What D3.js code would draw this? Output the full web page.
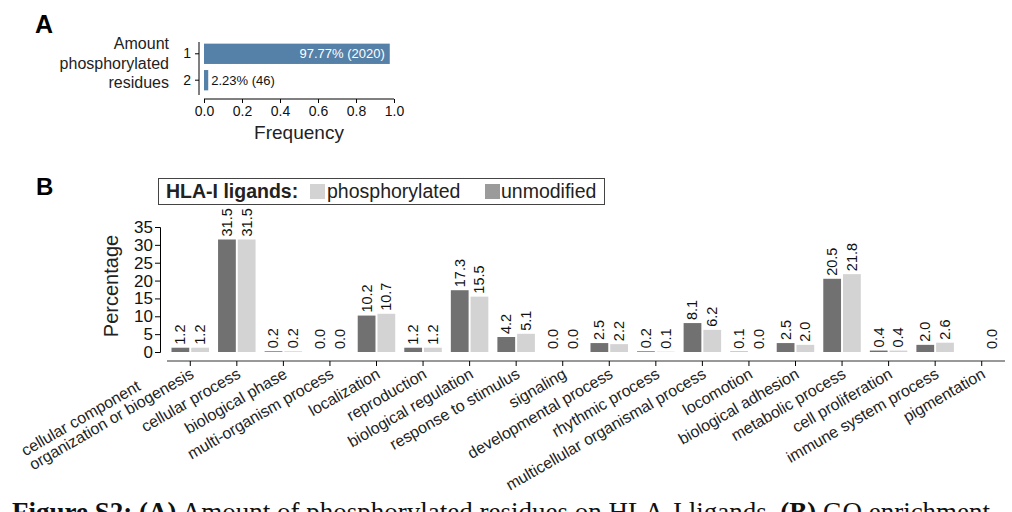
<!DOCTYPE html>
<html>
<head>
<meta charset="utf-8">
<script src="https://cdn.jsdelivr.net/npm/d3@7"></script>
<style>
  body { margin: 0; background: #fff; }
  svg { display: block; font-family: "Liberation Sans", Arial, sans-serif; }
</style>
</head>
<body>
<svg id="fig" width="1012" height="512"></svg>
<script>
// panel A data
const residues = ["1", "2"];
const residueFreq = [0.9777, 0.0223];
const residueCount = [2020, 46];
const freqTicks = [0, 0.2, 0.4, 0.6, 0.8, 1.0];

// panel B data
const goTerms = [
  "cellular component\norganization or biogenesis", "cellular process", "biological phase",
  "multi-organism process", "localization", "reproduction", "biological regulation",
  "response to stimulus", "signaling", "developmental process", "rhythmic process",
  "multicellular organismal process", "locomotion", "biological adhesion",
  "metabolic process", "cell proliferation", "immune system process", "pigmentation"
];
const unmodified = [1.2, 31.5, 0.2, 0.0, 10.2, 1.2, 17.3, 4.2, 0.0, 2.5, 0.2, 8.1, 0.1, 2.5, 20.5, 0.4, 2.0, null];
const phosphorylated = [1.2, 31.5, 0.2, 0.0, 10.7, 1.2, 15.5, 5.1, 0.0, 2.2, 0.1, 6.2, 0.0, 2.0, 21.8, 0.4, 2.6, 0.0];
const pctTicks = [0, 5, 10, 15, 20, 25, 30, 35];

const svg = d3.select("#fig");

// ---------- panel A ----------
svg.append("text").attr("x", 35).attr("y", 33)
  .style("font-size", "25px").style("font-weight", "bold").text("A");

const ax = d3.scaleLinear().domain([0, 1]).range([204, 394]);
const ay = d3.scaleBand().domain(residues).range([41, 93]).paddingInner(0.23).paddingOuter(0.1);

const aBars = residues.map((r, i) => ({ r, f: residueFreq[i], n: residueCount[i] }));

svg.selectAll(".abar").data(aBars).enter().append("rect")
  .attr("class", "abar")
  .attr("x", ax(0))
  .attr("y", d => ay(d.r))
  .attr("width", d => ax(d.f) - ax(0))
  .attr("height", ay.bandwidth())
  .attr("fill", "#5580a8");

svg.selectAll(".alab").data(aBars).enter().append("text")
  .attr("class", "alab")
  .attr("x", d => d.f > 0.5 ? ax(d.f) - 5 : ax(d.f) + 3)
  .attr("y", d => ay(d.r) + ay.bandwidth() / 2)
  .attr("dy", "0.35em")
  .attr("text-anchor", d => d.f > 0.5 ? "end" : "start")
  .attr("fill", d => d.f > 0.5 ? "#fff" : "#111")
  .style("font-size", "13px")
  .text(d => `${(d.f * 100).toFixed(2)}% (${d.n})`);

const aYAxis = svg.append("g").attr("transform", "translate(199,0)")
  .call(d3.axisLeft(ay).tickSize(4).tickPadding(4));
aYAxis.select(".domain").attr("d", "M0,42V95");
aYAxis.selectAll("text").style("font-size", "14px").attr("fill", "#111");

const aXAxis = svg.append("g").attr("transform", "translate(0,99)")
  .call(d3.axisBottom(ax).tickValues(freqTicks).tickFormat(d3.format(".1f")).tickSize(4).tickPadding(3));
aXAxis.select(".domain").attr("d", `M${ax(0)},0H${ax(1)}`);
aXAxis.selectAll("text").style("font-size", "14px").attr("fill", "#111");

svg.append("text").attr("x", 299).attr("y", 139).attr("text-anchor", "middle")
  .style("font-size", "19px").attr("fill", "#222").text("Frequency");

const aLab = svg.append("text").attr("text-anchor", "end").style("font-size", "16px").attr("fill", "#222");
["Amount", "phosphorylated", "residues"].forEach((t, i) => {
  aLab.append("tspan").attr("x", 169).attr("y", 49 + i * 19.5).text(t);
});

// ---------- panel B ----------
svg.append("text").attr("x", 36).attr("y", 195)
  .style("font-size", "24px").style("font-weight", "bold").text("B");

// legend
const leg = svg.append("g");
leg.append("rect").attr("x", 158.5).attr("y", 178.5).attr("width", 446).attr("height", 26)
  .attr("fill", "#fff").attr("stroke", "#444");
leg.append("text").attr("x", 166).attr("y", 198).style("font-size", "19.5px")
  .style("font-weight", "bold").attr("fill", "#222").text("HLA-I ligands:");
leg.append("rect").attr("x", 310).attr("y", 184).attr("width", 15).attr("height", 15).attr("fill", "#d3d3d3");
leg.append("text").attr("x", 327).attr("y", 198).style("font-size", "19.5px").attr("fill", "#222").text("phosphorylated");
leg.append("rect").attr("x", 485).attr("y", 184).attr("width", 15).attr("height", 15).attr("fill", "#9b9b9b");
leg.append("text").attr("x", 501).attr("y", 198).style("font-size", "19.5px").attr("fill", "#222").text("unmodified");

const bx = d3.scaleBand().domain(goTerms).range([167, 1005]);
const series = ["unmodified", "phosphorylated"];
const bxInner = d3.scaleBand().domain(series).range([4.5, 42]).paddingInner(0.1);
const by = d3.scaleLinear().domain([0, 35]).range([352, 227]);
const colors = { unmodified: "#717171", phosphorylated: "#d3d3d3" };

const bData = [];
goTerms.forEach((t, i) => {
  bData.push({ t, s: "unmodified", v: unmodified[i] });
  bData.push({ t, s: "phosphorylated", v: phosphorylated[i] });
});
const shown = bData.filter(d => d.v !== null);

svg.selectAll(".bbar").data(shown).enter().append("rect")
  .attr("class", "bbar")
  .attr("x", d => bx(d.t) + bxInner(d.s))
  .attr("y", d => by(d.v))
  .attr("width", bxInner.bandwidth())
  .attr("height", d => by(0) - by(d.v))
  .attr("fill", d => colors[d.s]);

svg.selectAll(".blab").data(shown).enter().append("text")
  .attr("class", "blab")
  .attr("transform", d => `translate(${bx(d.t) + bxInner(d.s) + bxInner.bandwidth() / 2 + 5},${by(d.v) - 3}) rotate(-90)`)
  .style("font-size", "14.5px").attr("fill", "#111")
  .text(d => d.v.toFixed(1));

const bYAxis = svg.append("g").attr("transform", "translate(160,0)")
  .call(d3.axisLeft(by).tickValues(pctTicks).tickSize(5).tickPadding(2));
bYAxis.selectAll("text").style("font-size", "17px").attr("fill", "#111");

svg.append("text").attr("transform", "translate(118,286) rotate(-90)")
  .attr("text-anchor", "middle").style("font-size", "20px").attr("fill", "#222").text("Percentage");

const bXAxis = svg.append("g").attr("transform", "translate(0,361)")
  .call(d3.axisBottom(bx).tickSize(5).tickFormat(""));
bXAxis.select(".domain").attr("d", "M167,0H1005").attr("stroke", "#333");

// rotated category labels
const xl = svg.append("g").selectAll("g").data(goTerms).enter().append("g")
  .attr("transform", d => `translate(${bx(d) + bx.bandwidth() / 2 - 1},367) rotate(-30)`);
xl.each(function (d) {
  const g = d3.select(this);
  const lines = d.split("\n");
  const last = g.append("text").attr("text-anchor", "end").attr("dy", "0.72em")
    .style("font-size", "16px").attr("fill", "#222").text(lines[lines.length - 1]);
  if (lines.length > 1) {
    const w = last.node().getComputedTextLength();
    g.append("text").attr("x", -w).attr("y", -16).attr("dy", "0.72em")
      .style("font-size", "16px").attr("fill", "#222").text(lines[0]);
  }
});

// caption (runs past the bottom edge, as in the source)
const cap = svg.append("text").attr("x", 12).attr("y", 521)
  .style("font-family", "'Liberation Serif', 'Times New Roman', serif").style("font-size", "27px").attr("fill", "#111");
cap.append("tspan").style("font-weight", "bold").text("Figure S2:");
cap.append("tspan").text(" ");
cap.append("tspan").style("font-weight", "bold").text("(A)");
cap.append("tspan").text(" Amount of phosphorylated residues on HLA-I ligands. ");
cap.append("tspan").style("font-weight", "bold").text("(B)");
cap.append("tspan").text(" GO enrichment");
</script>
</body>
</html>
